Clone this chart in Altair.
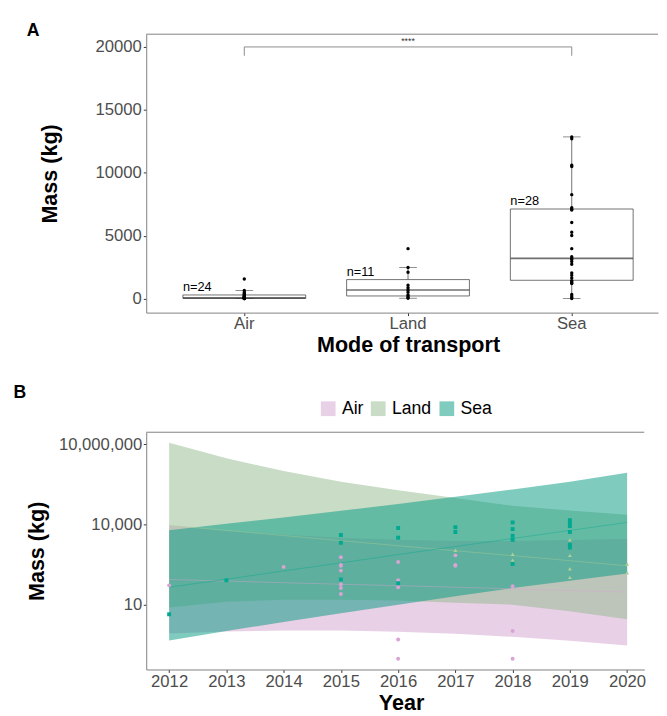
import altair as alt
import pandas as pd

FONT = "Liberation Sans"

# ---------------- Panel A data ----------------
modes = ["Air", "Land", "Sea"]
n_labels = ["n=24", "n=11", "n=28"]
whisker_low = [0, 30, 0]
q1 = [15, 210, 1457]
median = [60, 680, 3195]
q3 = [290, 1510, 7120]
whisker_high = [640, 2470, 12850]

air_mass_a = [1560, 640, 500, 420, 350, 300, 250, 200, 170, 140, 110, 90,
              70, 60, 50, 40, 30, 25, 20, 15, 10, 8, 5, 2]
land_mass_a = [3970, 2470, 2100, 1070, 860, 680, 500, 300, 200, 100, 30]
sea_mass_a = [12850, 12700, 10600, 10500, 8260, 7220, 7100, 7040, 6050, 5270,
              5010, 3970, 3330, 3195, 3100, 2940, 2730, 2030, 1850, 1640,
              1430, 1350, 1250, 1200, 340, 200, 80, 0]

bracket_x = ["Air", "Air", "Sea", "Sea"]
bracket_y = [19300, 20000, 20000, 19300]
sig_label = "****"
sig_x = "Land"
sig_y = 20000

# ---------------- Panel B data ----------------
years = [2012, 2013, 2014, 2015, 2016, 2017, 2018, 2019, 2020]
air_fit = [89.1, 77.6, 67.6, 58.9, 52.5, 45.7, 39.8, 34.7, 30.2]
air_low = [0.851, 1.02, 1.10, 1.10, 1.00, 0.832, 0.646, 0.457, 0.309]
air_high = [9330, 5890, 4170, 3240, 2690, 2450, 2450, 2630, 2950]
land_fit = [9330, 6030, 3890, 2510, 1620, 1050, 692, 447, 288]
land_low = [7.94, 13.2, 15.5, 15.5, 14.5, 12.0, 10.2, 5.75, 2.95]
land_high = [1.12e7, 2.95e6, 1.0e6, 3.98e5, 1.91e5, 9.77e4, 5.01e4, 3.31e4, 2.34e4]
sea_fit = [45.7, 91.2, 186, 372, 759, 1510, 3020, 6030, 12000]
sea_low = [0.468, 1.07, 2.29, 4.90, 10.2, 20.9, 42.7, 79.4, 148]
sea_high = [6170, 10700, 18200, 32400, 58900, 110000, 204000, 398000, 851000]

air_years_b = [2012, 2014, 2015, 2015, 2015, 2015, 2015, 2015, 2015,
               2016, 2016, 2016, 2016, 2016, 2017, 2017, 2017, 2018, 2018, 2018]
air_mass_b = [53.7, 263, 603, 309, 288, 191, 58.9, 42.7, 25.7,
              398, 83.2, 45.7, 0.513, 0.0977, 708, 309, 288, 50.1, 1.07, 0.0977]
land_years_b = [2017, 2018, 2018, 2019, 2019, 2019, 2019, 2020, 2020]
land_mass_b = [1100, 468, 776, 2690, 708, 224, 107, 339, 158]
sea_years_b = [2012, 2013, 2015, 2015, 2015, 2016, 2016, 2016, 2017, 2017,
               2018, 2018, 2018, 2018, 2018, 2019, 2019, 2019, 2019, 2019, 2019]
sea_mass_b = [4.47, 83.2, 4070, 2090, 89.1, 7410, 3240, 64.6, 7940, 5250,
              12000, 6760, 3800, 2690, 339, 14500, 11200, 8710, 5250, 1780, 1380]

point_colors = ["#D9A3D4", "#AACF98", "#00A98F"]
ribbon_colors = ["#D1A1CD", "#91B98D", "#00997F"]
mode_shapes = ["circle", "triangle-up", "square"]

# ---------------- frames ----------------
stats_df = pd.DataFrame({"mode": modes, "n": n_labels, "low": whisker_low, "q1": q1,
                         "med": median, "q3": q3, "high": whisker_high})
pts_a = pd.DataFrame({
    "mode": ["Air"] * len(air_mass_a) + ["Land"] * len(land_mass_a) + ["Sea"] * len(sea_mass_a),
    "mass": air_mass_a + land_mass_a + sea_mass_a})
bracket_df = pd.DataFrame({"mode": bracket_x, "mass": bracket_y, "o": [0, 1, 2, 3]})
sig_df = pd.DataFrame({"mode": [sig_x], "mass": [sig_y], "t": [sig_label]})

band_df = pd.DataFrame({
    "year": years * 3,
    "mode": ["Air"] * 9 + ["Land"] * 9 + ["Sea"] * 9,
    "low": air_low + land_low + sea_low,
    "high": air_high + land_high + sea_high,
    "fit": air_fit + land_fit + sea_fit})
band_df["grp"] = band_df["mode"]
pts_b_list = [
    pd.DataFrame({"year": air_years_b, "mass": air_mass_b}),
    pd.DataFrame({"year": land_years_b, "mass": land_mass_b}),
    pd.DataFrame({"year": sea_years_b, "mass": sea_mass_b}),
]
one = pd.DataFrame({"t": ["x"]})

# ---------------- Panel A ----------------
WA, HA = 522, 284
axisXA = alt.Axis(title="Mode of transport", labelAngle=0, tickSize=3, labelPadding=0,
                  titlePadding=4, titleX=267, domainColor="#7f7f7f")
scaleXA = alt.Scale(domain=modes, paddingInner=0, paddingOuter=0.0629, align=0.786)
scaleYA = alt.Scale(domain=[-1114, 21013], nice=False, zero=False)
axisYA = alt.Axis(title="Mass (kg)", values=[0, 5000, 10000, 15000, 20000], format="d",
                  tickSize=3, labelPadding=2, titleX=-91.7, titleBaseline="alphabetic")


def xa():
    return alt.X("mode:N", scale=scaleXA, axis=axisXA, sort=modes)


def ya(f):
    return alt.Y(f, type="quantitative", scale=scaleYA, axis=axisYA)


border_a = alt.Chart(one).mark_rule(color="#7f7f7f", strokeWidth=1).encode(
    x=alt.value(0), x2=alt.value(WA), y=alt.value(0))
whisk = alt.Chart(stats_df).mark_rule(color="#333333", strokeWidth=0.7).encode(
    x=xa(), y=ya("low"), y2="high:Q")
box = alt.Chart(stats_df).mark_bar(width={"band": 0.75}, fill="white", stroke="#333333",
                                   strokeWidth=0.7).encode(x=xa(), y=ya("q1"), y2="q3:Q")
med = alt.Chart(stats_df).mark_tick(size=125, thickness=1.6, color="#333333").encode(
    x=xa(), y=ya("med"))
cap_hi = alt.Chart(stats_df).mark_tick(size=18, thickness=0.8, color="#333333").encode(
    x=xa(), y=ya("high"))
cap_lo = alt.Chart(stats_df).mark_tick(size=18, thickness=0.8, color="#333333").encode(
    x=xa(), y=ya("low"))
dots = alt.Chart(pts_a).mark_circle(size=12, color="black", opacity=1).encode(
    x=xa(), y=ya("mass"))
nlab = alt.Chart(stats_df).mark_text(align="left", baseline="bottom", dx=-62.6, dy=-1,
                                     fontSize=13, font=FONT, color="black").encode(
    x=xa(), y=ya("q3"), text="n:N")
bracket = alt.Chart(bracket_df).mark_line(color="#8a8a8a", strokeWidth=1).encode(
    x=xa(), y=ya("mass"), order="o:Q")
sig = alt.Chart(sig_df).mark_text(baseline="bottom", dy=-1, fontSize=9, font=FONT,
                                  color="#333333").encode(x=xa(), y=ya("mass"), text="t:N")
lab_a = alt.Chart(pd.DataFrame({"t": ["A"]})).mark_text(
    align="left", baseline="alphabetic", fontSize=18, fontWeight="bold", font=FONT,
    color="black").encode(text="t:N", x=alt.value(-122), y=alt.value(2))

panel_a = alt.layer(border_a, whisk, box, med, cap_hi, cap_lo, dots, nlab, bracket, sig,
                    lab_a).properties(width=WA, height=HA)

# ---------------- Panel B ----------------
WB, HB = 508, 242
scaleXB = alt.Scale(domain=[2011.6, 2020.3], nice=False, zero=False)
axisXB = alt.Axis(title="Year", values=years, format="d", tickSize=3, labelPadding=1,
                  titlePadding=4, titleX=260)
scaleYB = alt.Scale(type="log", domain=[0.0389, 2.786e7], nice=False)
axisYB = alt.Axis(title="Mass (kg)", values=[10, 10000, 10000000], format=",",
                  tickSize=3, labelPadding=1.5, titleX=-105.1, titleBaseline="alphabetic")
fill_scale = alt.Scale(domain=modes, range=ribbon_colors)
color_scale = alt.Scale(domain=modes, range=point_colors)
legend_b = alt.Legend(title=None, orient="none", legendX=176.6, legendY=-33,
                      direction="horizontal", symbolType="square", symbolSize=225,
                      symbolOpacity=0.5, symbolStrokeWidth=0, labelFontSize=18,
                      labelFont=FONT, labelColor="black", labelOffset=5, columnPadding=6)


def xb():
    return alt.X("year:Q", scale=scaleXB, axis=axisXB)


def yb(f):
    return alt.Y(f, type="quantitative", scale=scaleYB, axis=axisYB)


ribbons = alt.Chart(band_df).mark_area(fillOpacity=0.5, strokeWidth=0).encode(
    x=xb(), y=yb("low"), y2="high:Q",
    fill=alt.Fill("mode:N", scale=fill_scale, legend=legend_b))
lines = alt.Chart(band_df).mark_line(strokeWidth=0.7, opacity=0.6).encode(
    x=xb(), y=yb("fit"), color=alt.Color("grp:N", scale=color_scale, legend=None))
pt_layers = [
    alt.Chart(df).mark_point(filled=True, shape=shp, size=16, opacity=1, color=col).encode(
        x=xb(), y=yb("mass"))
    for df, shp, col in zip(pts_b_list, mode_shapes, point_colors)
]
border_b = alt.Chart(one).mark_rule(color="#7f7f7f", strokeWidth=1).encode(
    x=alt.value(0), x2=alt.value(WB), y=alt.value(0))
lab_b = alt.Chart(pd.DataFrame({"t": ["B"]})).mark_text(
    align="left", baseline="alphabetic", fontSize=18, fontWeight="bold", font=FONT,
    color="black").encode(text="t:N", x=alt.value(-135.4), y=alt.value(-35.3))

panel_b = alt.layer(ribbons, lines, *pt_layers, border_b, lab_b).properties(width=WB, height=HB)

chart = alt.concat(panel_a, panel_b, columns=1, align="none", spacing=28,
                   padding={"left": 5, "top": 7.6, "right": 0, "bottom": 0})
chart = chart.resolve_scale(color="independent", fill="independent").resolve_legend(
    color="independent", fill="independent")
chart = chart.configure_view(stroke=None).configure_axis(
    labelFont=FONT, titleFont=FONT, labelFontSize=17, titleFontSize=22,
    labelColor="#4d4d4d", titleColor="black", tickColor="#333333",
    domainColor="#7f7f7f", titleFontWeight="bold", grid=False
).configure_text(font=FONT)

chart.save("out.html", embed_options={"renderer": "svg", "actions": False})
